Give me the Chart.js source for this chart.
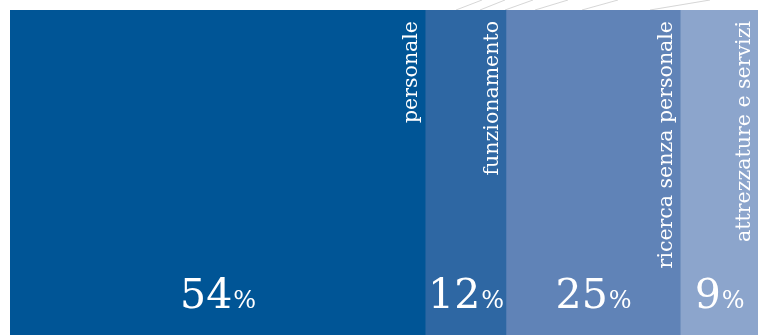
<!DOCTYPE html>
<html>
<head>
<meta charset="utf-8">
<script src="https://cdn.jsdelivr.net/npm/chart.js@4/dist/chart.umd.min.js"></script>
<style>
  html, body { margin: 0; padding: 0; background: #fff; }
  canvas { display: block; }
</style>
</head>
<body>
<canvas id="spese"></canvas>
<script>
// voci di spesa, quota mostrata e larghezza
const voci = ["personale", "funzionamento", "ricerca senza personale", "attrezzature e servizi"];
const percentuali = ["54", "12", "25", "9"];
const larghezze = [55.5, 10.8, 23.3, 10.4];
const colori = ["#005596", "#2E67A3", "#6083B7", "#8CA5CC"];

const fontTesto = "'DejaVu Serif', serif";

// linee decorative grigie sopra le barre
const decorazione = {
    id: 'decorazione',
    beforeDraw(chart) {
        const ctx = chart.ctx;
        const top = chart.chartArea.top;
        const tratti = [[456, 482], [480, 505], [505, 533], [535, 568], [582, 618], [650, 710]];
        ctx.save();
        ctx.strokeStyle = "rgba(210,210,210,0.9)";
        ctx.lineWidth = 1;
        tratti.forEach(([a, b]) => {
            ctx.beginPath();
            ctx.moveTo(a, top);
            ctx.lineTo(b, 0);
            ctx.stroke();
        });
        ctx.restore();
    }
};

// etichette verticali e percentuali dentro ogni segmento
const etichette = {
    id: 'etichette',
    afterDatasetsDraw(chart) {
        const ctx = chart.ctx;
        ctx.save();
        ctx.fillStyle = "#fff";
        chart.data.datasets.forEach((ds, i) => {
            const bar = chart.getDatasetMeta(i).data[0];
            const left = Math.min(bar.x, bar.base);
            const right = Math.max(bar.x, bar.base);
            const top = bar.y - bar.height / 2;
            const bottom = bar.y + bar.height / 2;

            // nome della voce, ruotato
            ctx.save();
            ctx.translate(right - 8, top + 11);
            ctx.rotate(-Math.PI / 2);
            ctx.font = "20.5px " + fontTesto;
            ctx.textAlign = "right";
            ctx.textBaseline = "alphabetic";
            ctx.fillText(voci[i], 0, 0);
            ctx.restore();

            // percentuale in basso
            const num = percentuali[i];
            ctx.font = "41px " + fontTesto;
            const wNum = ctx.measureText(num).width;
            ctx.font = "24px " + fontTesto;
            const wPct = ctx.measureText("%").width;
            const cx = (left + right) / 2;
            let x = cx - (wNum + wPct) / 2;
            const base = bottom - 27;
            ctx.textAlign = "left";
            ctx.textBaseline = "alphabetic";
            ctx.font = "41px " + fontTesto;
            ctx.fillText(num, x, base);
            ctx.font = "24px " + fontTesto;
            ctx.fillText("%", x + wNum + 1, base);
        });
        ctx.restore();
    }
};

const canvas = document.getElementById('spese');
canvas.width = 758;
canvas.height = 335;

new Chart(canvas, {
    type: 'bar',
    data: {
        labels: ["spese"],
        datasets: voci.map((v, i) => ({
            label: v,
            data: [larghezze[i]],
            backgroundColor: colori[i],
            borderWidth: 0,
            barPercentage: 1,
            categoryPercentage: 1
        }))
    },
    options: {
        indexAxis: 'y',
        responsive: false,
        animation: false,
        layout: { padding: { left: 10, top: 10, right: 0, bottom: 0 } },
        plugins: {
            legend: { display: false },
            tooltip: { enabled: false }
        },
        scales: {
            x: { stacked: true, min: 0, max: 100, display: false },
            y: { stacked: true, display: false }
        }
    },
    plugins: [decorazione, etichette]
});
</script>
</body>
</html>
